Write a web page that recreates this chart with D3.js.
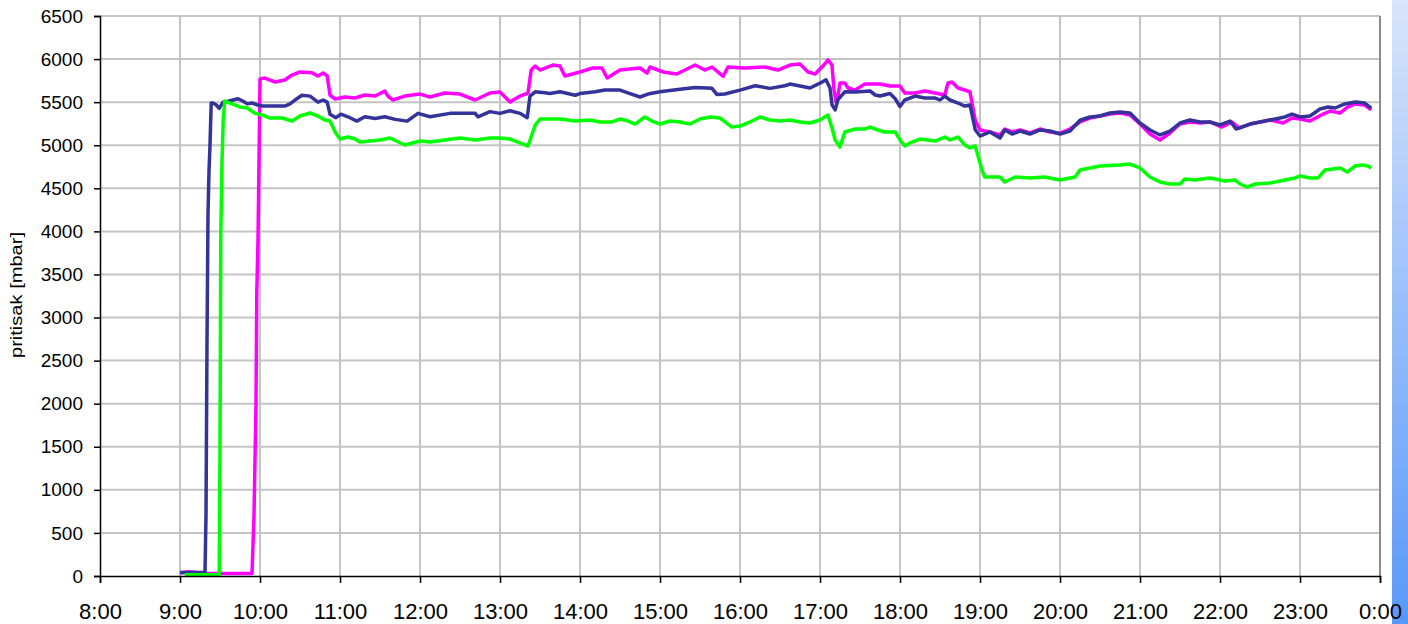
<!DOCTYPE html>
<html>
<head>
<meta charset="utf-8">
<script src="https://cdn.jsdelivr.net/npm/d3@7"></script>
<style>
  body { margin: 0; background: #fff; }
  svg { display: block; }
  .tick text { font-family: "Liberation Sans", Arial, sans-serif; fill: #000; }
</style>
</head>
<body>
<div id="chart"></div>
<script>
var width = 1408, height = 624;
var margin = {top: 16, right: 28, bottom: 48, left: 100};

// x in hours since midnight (24 = 0:00 next day), y in mbar
var hourTicks = d3.range(8, 25);
var pressureTicks = d3.range(0, 6501, 500);

var magentaSeries = [
  [9.0, 35], [9.1, 50], [9.19, 45], [9.25, 30], [9.9, 30], [9.925, 700], [9.95, 2000], [9.96, 3300],
  [9.975, 3900], [9.99, 5000], [10.0, 5770], [10.06, 5780], [10.19, 5734], [10.31, 5757], [10.4, 5815],
  [10.5, 5850], [10.65, 5840], [10.725, 5804], [10.79, 5838], [10.84, 5804], [10.875, 5583], [10.94, 5536],
  [11.06, 5560], [11.19, 5548], [11.31, 5583], [11.44, 5571], [11.56, 5629], [11.6, 5570], [11.66, 5525],
  [11.81, 5571], [12.0, 5594], [12.125, 5560], [12.31, 5606], [12.5, 5594], [12.69, 5525], [12.875, 5606],
  [13.0, 5618], [13.125, 5502], [13.25, 5571], [13.35, 5606], [13.39, 5873], [13.44, 5920], [13.5, 5873],
  [13.66, 5931], [13.75, 5920], [13.81, 5804], [14.0, 5850], [14.16, 5896], [14.275, 5896], [14.34, 5780],
  [14.5, 5873], [14.75, 5896], [14.84, 5838], [14.875, 5908], [15.04, 5850], [15.21, 5827], [15.44, 5931],
  [15.56, 5873], [15.65, 5908], [15.79, 5800], [15.85, 5908], [16.06, 5896], [16.31, 5908], [16.475, 5873],
  [16.625, 5931], [16.75, 5943], [16.85, 5850], [16.94, 5827], [17.06, 5943], [17.1, 5990], [17.15, 5931],
  [17.175, 5641], [17.2, 5502], [17.225, 5580], [17.25, 5722], [17.31, 5722], [17.35, 5664], [17.44, 5641],
  [17.56, 5711], [17.75, 5711], [17.875, 5687], [18.0, 5687], [18.06, 5606], [18.19, 5606], [18.31, 5629],
  [18.44, 5606], [18.56, 5583], [18.6, 5722], [18.65, 5734], [18.725, 5664], [18.81, 5641], [18.875, 5618],
  [18.94, 5293], [19.0, 5177], [19.125, 5154], [19.25, 5119], [19.31, 5188], [19.4, 5154], [19.5, 5177],
  [19.625, 5142], [19.75, 5188], [19.875, 5154], [20.0, 5140], [20.125, 5188], [20.25, 5270], [20.375, 5316],
  [20.5, 5339], [20.625, 5362], [20.75, 5374], [20.875, 5351], [21.0, 5246], [21.125, 5130], [21.25, 5061],
  [21.375, 5142], [21.5, 5246], [21.625, 5270], [21.75, 5258], [21.875, 5270], [22.025, 5211], [22.15, 5270],
  [22.24, 5200], [22.375, 5246], [22.625, 5293], [22.79, 5258], [22.9, 5316], [23.0, 5304], [23.125, 5281],
  [23.29, 5362], [23.375, 5397], [23.5, 5374], [23.59, 5440], [23.69, 5479], [23.81, 5467], [23.89, 5409]
];

var greenSeries = [
  [9.06, 15], [9.49, 15], [9.5, 1500], [9.51, 4000], [9.525, 4800], [9.54, 5300], [9.56, 5513], [9.625, 5490],
  [9.75, 5444], [9.84, 5432], [9.94, 5370], [10.03, 5351], [10.125, 5316], [10.275, 5316], [10.4, 5281],
  [10.5, 5339], [10.625, 5374], [10.725, 5339], [10.81, 5293], [10.875, 5281], [10.94, 5154], [11.0, 5072],
  [11.1, 5095], [11.19, 5072], [11.25, 5037], [11.375, 5049], [11.5, 5061], [11.625, 5084], [11.81, 5003],
  [12.0, 5049], [12.125, 5037], [12.31, 5061], [12.5, 5084], [12.69, 5061], [12.875, 5084], [13.0, 5084],
  [13.125, 5072], [13.25, 5026], [13.35, 4991], [13.44, 5235], [13.5, 5304], [13.75, 5304], [13.94, 5281],
  [14.125, 5293], [14.25, 5270], [14.4, 5270], [14.5, 5304], [14.6, 5281], [14.69, 5246], [14.81, 5328],
  [14.9, 5281], [15.0, 5246], [15.125, 5281], [15.25, 5270], [15.375, 5246], [15.5, 5304], [15.625, 5328],
  [15.75, 5316], [15.85, 5246], [15.9, 5211], [16.0, 5223], [16.125, 5270], [16.25, 5328], [16.375, 5293],
  [16.5, 5281], [16.625, 5293], [16.75, 5270], [16.875, 5258], [17.0, 5293], [17.1, 5351], [17.15, 5200],
  [17.19, 5061], [17.25, 4979], [17.31, 5154], [17.44, 5188], [17.56, 5188], [17.625, 5211], [17.725, 5177],
  [17.81, 5154], [17.94, 5154], [18.0, 5061], [18.06, 4991], [18.125, 5026], [18.25, 5072], [18.44, 5049],
  [18.56, 5095], [18.625, 5061], [18.725, 5095], [18.81, 5003], [18.875, 4968], [18.94, 4991], [19.025, 4712],
  [19.06, 4631], [19.25, 4631], [19.31, 4573], [19.44, 4631], [19.625, 4620], [19.81, 4631], [20.0, 4596],
  [20.19, 4631], [20.25, 4712], [20.5, 4759], [20.75, 4770], [20.875, 4782], [21.0, 4736], [21.125, 4631],
  [21.25, 4573], [21.375, 4550], [21.5, 4550], [21.56, 4608], [21.69, 4596], [21.875, 4620], [22.06, 4585],
  [22.19, 4596], [22.25, 4550], [22.34, 4515], [22.44, 4550], [22.625, 4562], [22.81, 4596], [22.94, 4620],
  [23.0, 4643], [23.125, 4620], [23.225, 4620], [23.31, 4712], [23.41, 4724], [23.5, 4736], [23.59, 4689],
  [23.69, 4759], [23.775, 4770], [23.85, 4759], [23.89, 4736]
];

var navySeries = [
  [9.0, 40], [9.3125, 40], [9.325, 700], [9.3375, 2700], [9.35, 4200], [9.3625, 4700], [9.375, 5000],
  [9.39, 5490], [9.41, 5490], [9.45, 5470], [9.49, 5430], [9.54, 5500], [9.6, 5510], [9.725, 5540],
  [9.79, 5510], [9.84, 5480], [9.9, 5490], [9.96, 5470], [10.03, 5455], [10.31, 5455], [10.375, 5480],
  [10.46, 5540], [10.525, 5580], [10.625, 5570], [10.725, 5500], [10.79, 5525], [10.84, 5500], [10.875, 5360],
  [10.95, 5320], [11.01, 5360], [11.1, 5330], [11.21, 5280], [11.31, 5330], [11.44, 5310], [11.56, 5330],
  [11.69, 5300], [11.84, 5280], [11.975, 5370], [12.125, 5330], [12.375, 5370], [12.69, 5370], [12.725, 5330],
  [12.875, 5390], [13.0, 5370], [13.125, 5400], [13.25, 5370], [13.34, 5320], [13.375, 5570], [13.44, 5620],
  [13.56, 5610], [13.625, 5600], [13.75, 5620], [13.94, 5580], [14.0, 5600], [14.19, 5620], [14.31, 5640],
  [14.5, 5640], [14.625, 5600], [14.75, 5560], [14.85, 5594], [15.0, 5620], [15.25, 5650], [15.44, 5670],
  [15.65, 5660], [15.71, 5590], [15.81, 5594], [16.0, 5640], [16.19, 5690], [16.375, 5660], [16.56, 5690],
  [16.625, 5710], [16.75, 5687], [16.875, 5664], [17.0, 5720], [17.075, 5760], [17.125, 5664], [17.15, 5470],
  [17.19, 5410], [17.225, 5530], [17.31, 5620], [17.44, 5618], [17.625, 5630], [17.69, 5583], [17.75, 5571],
  [17.875, 5600], [17.94, 5540], [18.0, 5450], [18.06, 5525], [18.19, 5571], [18.31, 5548], [18.44, 5548],
  [18.5, 5525], [18.56, 5571], [18.625, 5525], [18.725, 5490], [18.81, 5455], [18.875, 5467], [18.94, 5180],
  [19.0, 5107], [19.125, 5154], [19.25, 5084], [19.31, 5177], [19.4, 5130], [19.5, 5165], [19.625, 5130],
  [19.75, 5177], [19.875, 5165], [20.0, 5130], [20.125, 5165], [20.25, 5290], [20.375, 5328], [20.5, 5339],
  [20.625, 5374], [20.75, 5386], [20.875, 5374], [21.0, 5258], [21.125, 5177], [21.25, 5119], [21.375, 5165],
  [21.5, 5258], [21.625, 5293], [21.75, 5270], [21.875, 5270], [22.0, 5235], [22.125, 5281], [22.2, 5188],
  [22.375, 5246], [22.625, 5293], [22.81, 5328], [22.9, 5362], [23.0, 5328], [23.125, 5339], [23.25, 5420],
  [23.35, 5444], [23.44, 5432], [23.56, 5479], [23.69, 5502], [23.81, 5490], [23.89, 5432]
];

var svg = d3.select("#chart").append("svg")
    .attr("width", width)
    .attr("height", height);

var x = d3.scaleLinear().domain([8, 24]).range([margin.left, width - margin.right]);
var y = d3.scaleLinear().domain([0, 6500]).range([height - margin.bottom, margin.top]);

// gradient strip on the right edge
var grad = svg.append("defs").append("linearGradient")
    .attr("id", "strip").attr("x1", 0).attr("y1", 0).attr("x2", 0).attr("y2", 1);
grad.append("stop").attr("offset", "0%").attr("stop-color", "#d8e5fb");
grad.append("stop").attr("offset", "100%").attr("stop-color", "#5898f8");
svg.append("rect")
    .attr("x", 1392).attr("y", 0).attr("width", 16).attr("height", height)
    .attr("fill", "url(#strip)");

// gridlines
svg.append("g")
    .selectAll("line.h")
    .data(pressureTicks.slice(1))
    .enter().append("line")
    .attr("x1", x(8)).attr("x2", x(24))
    .attr("y1", function(d) { return y(d); }).attr("y2", function(d) { return y(d); })
    .attr("stroke", "#c4c4c4").attr("stroke-width", 2);

svg.append("g")
    .selectAll("line.v")
    .data(hourTicks.slice(1, -1))
    .enter().append("line")
    .attr("x1", function(d) { return x(d); }).attr("x2", function(d) { return x(d); })
    .attr("y1", y(0)).attr("y2", y(6500))
    .attr("stroke", "#c4c4c4").attr("stroke-width", 2);

// right border of plot
svg.append("line")
    .attr("x1", x(24)).attr("x2", x(24)).attr("y1", y(0)).attr("y2", y(6500))
    .attr("stroke", "#8c8c8c").attr("stroke-width", 2);

var line = d3.line()
    .x(function(d) { return x(d[0]); })
    .y(function(d) { return y(d[1]); });

var series = [
  {data: magentaSeries, color: "#ff00ff"},
  {data: navySeries, color: "#333399"},
  {data: greenSeries, color: "#00ff00"}
];

svg.append("g")
    .selectAll("path")
    .data(series)
    .enter().append("path")
    .attr("d", function(d) { return line(d.data); })
    .attr("fill", "none")
    .attr("stroke", function(d) { return d.color; })
    .attr("stroke-width", 3.5)
    .attr("stroke-linejoin", "round");

// axes
var yAxis = svg.append("g")
    .attr("transform", "translate(" + x(8) + ",0)")
    .call(d3.axisLeft(y).tickValues(pressureTicks).tickSize(6).tickPadding(11).tickFormat(d3.format("d")));
yAxis.select(".domain").attr("stroke", "#000").attr("stroke-width", 1.5);
yAxis.selectAll(".tick line").attr("stroke", "#000").attr("stroke-width", 1.5);
yAxis.selectAll(".tick text").style("font-size", "19px");

var xAxis = svg.append("g")
    .attr("transform", "translate(0," + y(0) + ")")
    .call(d3.axisBottom(x).tickValues(hourTicks).tickSize(7).tickPadding(20)
      .tickFormat(function(d) { return (d % 24) + ":00"; }));
xAxis.select(".domain").attr("stroke", "#000").attr("stroke-width", 1.5);
xAxis.selectAll(".tick line").attr("stroke", "#000").attr("stroke-width", 1.5);
xAxis.selectAll(".tick text").style("font-size", "22px");

svg.append("text")
    .attr("transform", "translate(22," + 295 + ") rotate(-90)")
    .attr("text-anchor", "middle")
    .attr("textLength", 126)
    .attr("lengthAdjust", "spacingAndGlyphs")
    .style("font-family", "'Liberation Sans', Arial, sans-serif")
    .style("font-size", "16px")
    .text("pritisak [mbar]");
</script>
</body>
</html>
